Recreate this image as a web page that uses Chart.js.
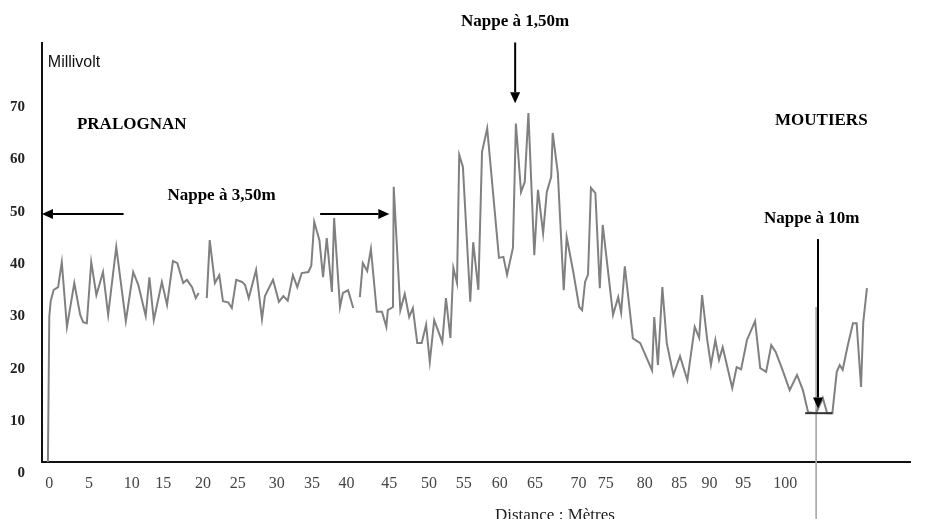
<!DOCTYPE html>
<html>
<head>
<meta charset="utf-8">
<title>Profil Millivolt</title>
<script src="https://cdn.jsdelivr.net/npm/chart.js@4/dist/chart.umd.min.js"></script>
<style>
	html, body { margin: 0; padding: 0; background: #fff; }
	#chart { position: relative; width: 926px; height: 519px; }
</style>
</head>
<body>
<div id="chart"><canvas id="canvas"></canvas></div>
<script>

const distance = [
	-0.3, -0.1, 0.1, 0.5, 1.1, 1.6, 2.3, 3.3, 4.1, 4.5,
	5.0, 5.6, 6.3, 7.2, 7.9, 9.0, 10.3, 11.3, 12.0, 13.0,
	13.5, 14.1, 15.2, 15.9, 16.7, 17.3, 18.1, 18.6, 19.3, 19.8,
	20.2, 20.8, 21.3, 21.7, 22.4, 23.0, 23.5, 24.2, 24.7, 25.3,
	26.1, 26.5, 27.0, 28.0, 28.8, 29.2, 30.3, 31.1, 31.7, 32.3,
	33.0, 33.6, 34.2, 35.1, 35.5, 35.9, 36.6, 37.1, 37.6, 38.3,
	38.6, 39.4, 39.8, 40.5, 41.2, 41.6, 42.1, 42.5, 43.1, 43.6,
	44.4, 45.1, 45.7, 45.9, 46.6, 46.7, 47.6, 48.2, 48.8, 49.3,
	49.9, 50.5, 51.1, 51.6, 52.2, 53.3, 53.8, 54.4, 54.8, 55.3,
	55.6, 56.1, 57.1, 57.5, 58.2, 58.7, 59.4, 61.0, 61.6, 62.1,
	62.9, 63.3, 64.0, 64.5, 65.0, 65.8, 66.3, 67.0, 67.5, 68.1,
	68.3, 69.0, 69.8, 70.2, 71.1, 71.9, 72.3, 72.7, 73.1, 73.5,
	74.1, 74.7, 75.1, 76.5, 77.2, 77.6, 78.1, 79.2, 80.2, 81.8,
	82.1, 82.6, 83.2, 83.8, 84.7, 85.6, 86.6, 87.6, 88.2, 88.6,
	89.3, 89.8, 90.4, 90.9, 91.4, 92.7, 93.3, 93.9, 94.7, 95.8,
	96.5, 97.3, 98.0, 98.6, 99.6, 100.5, 101.5, 102.3, 103.0, 104.1,
	105.0, 105.6, 106.3, 106.9, 107.3, 107.7, 108.4, 109.1, 109.6, 110.2,
	110.5, 111.0
];

const millivolt = [
	0, 30, 33, 35.1, 35.6, 40.4, 28.0, 36.4, 30.3, 28.9,
	28.7, 40.4, 34.1, 38.5, 30.3, 43.3, 29.1, 38.5, 36.0, 30.1,
	37.5, 29.3, 36.6, 32.2, 40.6, 40.2, 36.4, 37.0, 35.6, 33.5,
	34.5, null, 33.5, 44.6, 36.4, 37.9, 32.9, 32.7, 31.6, 37.0,
	36.6, 36.0, 33.5, 38.9, 29.5, 33.9, 37.0, 32.8, 33.9, 33.0,
	37.9, 35.6, 38.3, 38.5, 39.7, 48.1, 44.6, 37.5, 45.0, 34.7,
	48.8, 31.8, 34.5, 35.0, 31.6, null, 33.7, 40.2, 38.7, 42.9,
	30.9, 30.9, 28.0, 31.2, 31.8, 54.8, 31.2, 34.3, 29.9, 31.6,
	24.9, 24.9, 28.4, 21.3, 29.3, 25.1, 33.5, 25.9, 39.3, 36.4,
	60.9, 58.6, 32.8, 44.2, 35.1, 61.5, 66.0, 41.2, 41.4, 38.0,
	43.1, 66.9, 53.8, 55.7, 68.9, 41.7, 54.2, 45.9, 53.8, 56.7,
	65.1, 57.4, 35.0, 45.2, 38.5, 31.8, 31.2, 36.6, 38.0, 54.6,
	53.6, 35.4, 47.5, 30.3, 33.7, 30.7, 39.6, 25.8, 24.9, 19.7,
	29.9, 20.7, 35.6, 24.9, 18.8, 22.4, 17.8, 28.0, 25.9, 34.1,
	25.5, 20.7, 25.5, 21.7, 24.1, 16.3, 20.3, 19.9, 25.5, 29.1,
	20.1, 19.4, 24.5, 23.2, 19.5, 15.9, 18.8, 15.9, 11.7, 11.5,
	14.4, 11.5, 11.5, 19.4, 20.7, 19.8, 24.5, 28.7, 28.7, 16.5,
	28.9, 35.4
];

// thin stray trace under the 10 m arrow
const traceDistance = [ 104.1, 104.1 ];
const traceMillivolt = [ 31.8, -8.7 ];

// printed x labels and where the scan puts them
const xTickLabels = [ '0', '5', '10', '15', '20', '25', '30', '35', '40', '45', '50',
	'55', '60', '65', '70', '75', '80', '85', '90', '95', '100' ];
const xTickAt = [ -0.1, 5.3, 11.1, 15.4, 20.8, 25.5, 30.8, 35.6, 40.3, 46.1, 51.5,
	56.2, 61.1, 65.9, 71.8, 75.5, 80.8, 85.5, 89.6, 94.2, 99.9 ];

const yTicks = [ 0, 10, 20, 30, 40, 50, 60, 70 ];

// annotations, in metres / millivolts
const notes = [
	{ text: 'PRALOGNAN', x: 11.1, y: 66.7 },
	{ text: 'Nappe à 3,50m', x: 23.3, y: 53.2 },
	{ text: 'Nappe à 1,50m', x: 63.2, y: 86.3 },
	{ text: 'MOUTIERS', x: 104.8, y: 67.4 },
	{ text: 'Nappe à 10m', x: 103.5, y: 48.8 }
];

const arrows = [
	{ from: [ 10.0, 49.6 ], to: [ -1.1, 49.6 ] },
	{ from: [ 36.7, 49.6 ], to: [ 46.1, 49.6 ] },
	{ from: [ 63.2, 82.4 ], to: [ 63.2, 70.8 ] },
	{ from: [ 104.35, 44.8 ], to: [ 104.35, 12.4 ] }
];

const levelMark = { from: 102.6, to: 106.3, y: 11.5 };

const serif = "'Liberation Serif', 'Times New Roman', serif";
const sans = "'Liberation Sans', Arial, sans-serif";

function drawArrow ( ctx, x1, y1, x2, y2 ) {

	const a = Math.atan2( y2 - y1, x2 - x1 );
	const len = 11;
	const half = 5;

	ctx.beginPath();
	ctx.moveTo( x1, y1 );
	ctx.lineTo( x2 - Math.cos( a ) * len, y2 - Math.sin( a ) * len );
	ctx.stroke();

	ctx.beginPath();
	ctx.moveTo( x2, y2 );
	ctx.lineTo( x2 - Math.cos( a ) * len - Math.sin( a ) * half, y2 - Math.sin( a ) * len + Math.cos( a ) * half );
	ctx.lineTo( x2 - Math.cos( a ) * len + Math.sin( a ) * half, y2 - Math.sin( a ) * len - Math.cos( a ) * half );
	ctx.closePath();
	ctx.fill();

}

const annotate = {
	id: 'annotate',
	afterDraw ( chart ) {

		const ctx = chart.ctx;
		const xs = chart.scales.x;
		const ys = chart.scales.y;

		ctx.save();

		ctx.fillStyle = '#000';
		ctx.strokeStyle = '#000';
		ctx.lineWidth = 2;

		arrows.forEach( a => {

			drawArrow( ctx,
				xs.getPixelForValue( a.from[ 0 ] ), ys.getPixelForValue( a.from[ 1 ] ),
				xs.getPixelForValue( a.to[ 0 ] ), ys.getPixelForValue( a.to[ 1 ] ) );

		} );

		ctx.strokeStyle = '#333';
		ctx.beginPath();
		ctx.moveTo( xs.getPixelForValue( levelMark.from ), ys.getPixelForValue( levelMark.y ) );
		ctx.lineTo( xs.getPixelForValue( levelMark.to ), ys.getPixelForValue( levelMark.y ) );
		ctx.stroke();

		ctx.textAlign = 'center';
		ctx.textBaseline = 'middle';
		ctx.font = 'bold 17px ' + serif;

		notes.forEach( n => {

			ctx.fillText( n.text, xs.getPixelForValue( n.x ), ys.getPixelForValue( n.y ) );

		} );

		// axis names
		ctx.font = '16px ' + sans;
		ctx.fillStyle = '#111';
		ctx.textAlign = 'left';
		ctx.fillText( 'Millivolt', xs.getPixelForValue( -0.3 ), ys.getPixelForValue( 78.6 ) );

		ctx.font = '17px ' + serif;
		ctx.fillStyle = '#222';
		ctx.textAlign = 'center';
		ctx.fillText( 'Distance : Mètres', xs.getPixelForValue( 68.6 ), ys.getPixelForValue( -8.0 ) );

		ctx.restore();

	}
};

const config = {
	type: 'line',
	data: {
		datasets: [ {
			data: distance.map( ( d, i ) => ( { x: d, y: millivolt[ i ] } ) ),
			borderColor: '#808080',
			borderWidth: 2,
			pointRadius: 0,
			tension: 0
		}, {
			data: traceDistance.map( ( d, i ) => ( { x: d, y: traceMillivolt[ i ] } ) ),
			borderColor: '#aaaaaa',
			borderWidth: 1,
			pointRadius: 0,
			clip: false
		} ]
	},
	options: {
		responsive: true,
		maintainAspectRatio: false,
		animation: false,
		layout: {
			padding: { top: 43, right: 16, bottom: 0, left: 0 }
		},
		plugins: {
			legend: { display: false },
			tooltip: { enabled: false }
		},
		scales: {
			x: {
				type: 'linear',
				min: -1.09,
				max: 116.85,
				grid: { display: false, drawTicks: false },
				border: { display: true, color: '#111', width: 2 },
				afterBuildTicks: scale => {

					scale.ticks = xTickAt.map( v => ( { value: v } ) );

				},
				afterFit: scale => {

					scale.height = 57;

				},
				ticks: {
					autoSkip: false,
					maxRotation: 0,
					padding: 12,
					color: '#444',
					font: { family: serif, size: 16 },
					callback: ( value, index ) => xTickLabels[ index ]
				}
			},
			y: {
				min: 2.16,
				max: 82.3,
				grid: { display: false, drawTicks: false },
				border: { display: true, color: '#111', width: 2 },
				afterBuildTicks: scale => {

					scale.ticks = yTicks.map( v => ( { value: v } ) );

				},
				afterFit: scale => {

					scale.width = 42;

				},
				ticks: {
					padding: 17,
					color: '#222',
					font: { family: serif, size: 15, weight: 'bold' }
				}
			}
		}
	},
	plugins: [ annotate ]
};

new Chart( document.getElementById( 'canvas' ), config );

</script>
</body>
</html>
